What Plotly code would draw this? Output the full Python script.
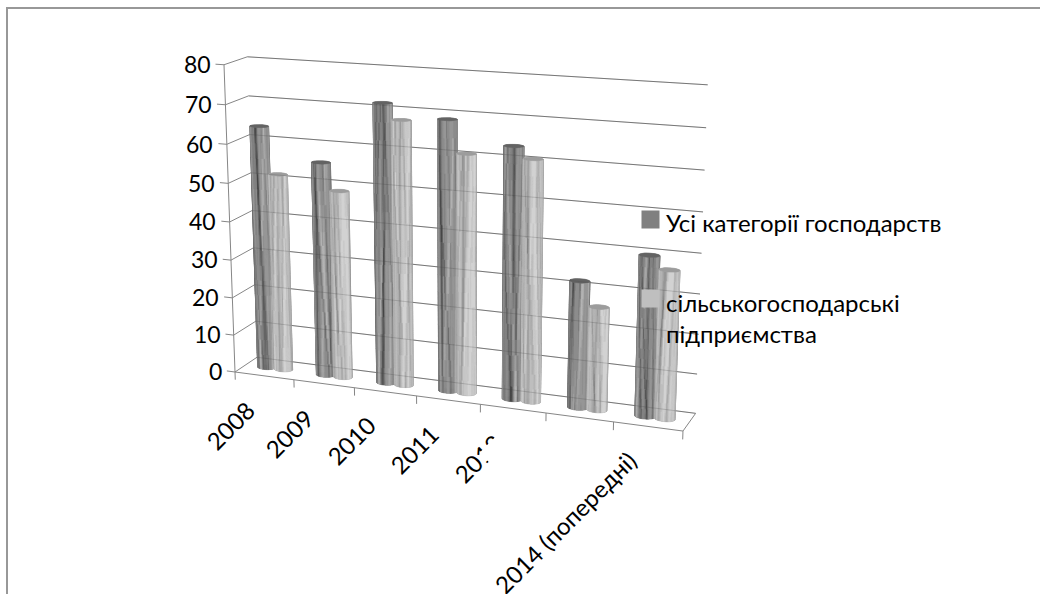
import numpy as np
import plotly.graph_objects as go

categories = ["2008", "2009", "2010", "2011", "2012", "2013", "2014 (попередні)"]
tick_labels = ["2008", "2009", "2010", "2011", "2012", "", "2014 (попередні)"]
series_names = ["Усі категорії господарств", "сільськогосподарські підприємства"]
all_farms = [63.8, 55.8, 71.9, 69.0, 63.7, 32.1, 40.1]
agri_enterprises = [51.8, 48.9, 68.0, 60.9, 60.9, 26.1, 37.0]
value_ticks = [0, 10, 20, 30, 40, 50, 60, 70, 80]

FONT = "Lato, 'Open Sans', sans-serif"
GRID = "#868686"


def project(X, Y, Z):
    """Perspective view of the chart box: X category, Y depth 0..1, Z value."""
    X, Y, Z = np.asarray(X, float), np.asarray(Y, float), np.asarray(Z, float)
    w = 1 - 0.013056 * X + 0.0239 * Y - 0.000575 * Z
    px = 235 + 55.08 * X + 28.13 * Y - 0.2662 * Z
    py = 372 + 2.807 * X - 6.214 * Y - 3.878 * Z
    return px / w, py / w


def line_trace(points, color=GRID, width=1.0, name="axis"):
    xs, ys = [], []
    for seg in points:
        a, b = project(*seg[0]), project(*seg[1])
        xs += [float(a[0]), float(b[0]), None]
        ys += [float(a[1]), float(b[1]), None]
    return go.Scatter(x=xs, y=ys, mode="lines", line=dict(color=color, width=width),
                      hoverinfo="skip", showlegend=False, name=name)


NCAT = len(categories)
grid_segments = []
for v in value_ticks:
    grid_segments.append(((0, 0, v), (0, 1, v)))
    grid_segments.append(((0, 1, v), (NCAT, 1, v)))

fig = go.Figure()
fig.add_trace(line_trace(grid_segments, name="gridlines"))

# Grain of the cylinder surface: (position, slant, width, strength)
STREAKS = [(0.12, 0.45, 0.035, -1.0), (0.24, -0.20, 0.05, 0.6), (0.36, -0.50, 0.03, -1.0),
           (0.47, 0.10, 0.04, -1.1), (0.56, 0.40, 0.03, 0.7), (0.63, -0.25, 0.035, -0.9),
           (0.74, 0.30, 0.04, 0.6), (0.85, -0.35, 0.03, -0.8), (0.94, 0.15, 0.04, 0.7)]
LEVELS = 24


def texture(u, t, idx, light):
    """Grey level of the grained cylinder surface; u around, t along the height."""
    base = 188.0 if light else 136.0
    shade = 12 * np.cos(2 * np.pi * (u - 0.7))
    val = base + shade
    for k, (c, s, wd, st) in enumerate(STREAKS):
        shift = 0.10 * np.sin(idx * 1.7 + k * 2.3)
        slope = s * (1.0 if (idx + k) % 3 else -1.0)
        pos = c + shift + slope * (t - 0.5)
        val = val + st * (34 if light else 46) * np.exp(-((u - pos) / wd) ** 2)
    val += 5 * np.sin(u * 47 + idx) + 4 * np.sin(u * 83 + 5 * t + idx * 2)
    val -= 34 * abs(2 * u - 1) ** 8
    return float(np.clip(val, 70, 212 if light else 178))


def add_cylinder(cat, slot, value, idx, light, name):
    cx = cat + (0.355 if slot == 0 else 0.645)
    cy, r = 0.5, 0.145
    th_all = np.linspace(0, 2 * np.pi, 49)
    ux, uy = [], []
    for a, b in zip(th_all[:-1], th_all[1:]):
        xq = [cx + r * np.cos(a), cx + r * np.cos(b), cx + r * np.cos(b), cx + r * np.cos(a)]
        yq = [cy + r * np.sin(a), cy + r * np.sin(b), cy + r * np.sin(b), cy + r * np.sin(a)]
        zq = [0, 0, value, value]
        px, py = project(xq, yq, zq)
        ux += list(px) + [px[0], None]
        uy += list(py) + [py[0], None]
    col = "#a8a8a8" if light else "#7c7c7c"
    fig.add_trace(go.Scatter(x=ux, y=uy, mode="lines", fill="toself", fillcolor=col,
                             line=dict(color=col, width=0.4), hoverinfo="skip",
                             showlegend=False, name=name))
    thetas = np.linspace(-np.pi - 0.2, 0.2, 29)
    zs = np.linspace(0, value, 17)
    buckets = {}
    for i in range(len(thetas) - 1):
        a, b = thetas[i], thetas[i + 1]
        u = ((a + b) / 2 + np.pi + 0.2) / (np.pi + 0.4)
        for j in range(len(zs) - 1):
            t = (zs[j] + zs[j + 1]) / 2 / 72.0
            g = texture(u, t, idx, light)
            lvl = int(round(g / 240 * LEVELS))
            xq = [cx + r * np.cos(a), cx + r * np.cos(b), cx + r * np.cos(b), cx + r * np.cos(a)]
            yq = [cy + r * np.sin(a), cy + r * np.sin(b), cy + r * np.sin(b), cy + r * np.sin(a)]
            zq = [zs[j], zs[j], zs[j + 1], zs[j + 1]]
            px, py = project(xq, yq, zq)
            bx, by = buckets.setdefault(lvl, ([], []))
            bx += [round(float(v), 2) for v in px] + [round(float(px[0]), 2), None]
            by += [round(float(v), 2) for v in py] + [round(float(py[0]), 2), None]
    for lvl, (bx, by) in sorted(buckets.items()):
        g = int(lvl * 240 / LEVELS)
        c = f"rgb({g},{g},{g})"
        fig.add_trace(go.Scatter(x=bx, y=by, mode="lines", fill="toself", fillcolor=c,
                                 line=dict(color=c, width=0.25), hoverinfo="skip",
                                 showlegend=False, name=name))
    th = np.linspace(0, 2 * np.pi, 37)
    px, py = project(cx + r * np.cos(th), cy + r * np.sin(th), np.full_like(th, value))
    cap = "#9c9c9c" if light else "#636363"
    fig.add_trace(go.Scatter(x=px.tolist(), y=py.tolist(), mode="lines", fill="toself", fillcolor=cap,
                             line=dict(color=cap, width=0.5), hoverinfo="skip",
                             showlegend=False, name=name))


for c in range(NCAT):
    add_cylinder(c, 0, all_farms[c], c * 2, False, series_names[0])
    add_cylinder(c, 1, agri_enterprises[c], c * 2 + 1, True, series_names[1])

# gridlines show faintly through the cylinders
fig.add_trace(line_trace([s for s in grid_segments if s[0][1] == 1 and s[1][1] == 1],
                         color="rgba(70,70,70,0.22)", width=1.0, name="gridlines over bars"))

axis_segments = [((0, 0, 0), (0, 0, 80)), ((0, 0, 0), (NCAT, 0, 0)), ((NCAT, 0, 0), (NCAT, 1, 0))]
axis_segments += [((-0.14, 0, v), (0, 0, v)) for v in value_ticks]
axis_segments += [((c, 0, 0), (c, 0, -2.1)) for c in range(NCAT + 1)]
fig.add_trace(line_trace(axis_segments, name="axes"))

annotations = []
for v in value_ticks:
    px, py = project(-0.14, 0, v)
    annotations.append(dict(x=float(px), y=float(py), xshift=-3, text=str(v), showarrow=False,
                            xanchor="right", yanchor="middle", font=dict(family=FONT, size=23, color="black")))

label_pos = [(230, 425), (289, 433), (351, 440), (414, 449), (478, 458), None, (565, 522)]
for lab, pos in zip(tick_labels, label_pos):
    if lab and pos:
        annotations.append(dict(x=pos[0], y=pos[1], text=lab, showarrow=False, textangle=-45,
                                xanchor="center", yanchor="middle",
                                font=dict(family=FONT, size=24, color="black")))

# part of the 2012 label is hidden in the reference
annotations.append(dict(x=500, y=447, text=" ", showarrow=False, textangle=-45, width=36, height=20,
                        bgcolor="white", borderpad=0, font=dict(size=1)))

for y, col in [(219.5, "#808080"), (298.5, "#bfbfbf")]:
    annotations.append(dict(x=650.5, y=y, text="\u00a0", showarrow=False, width=17, height=17,
                            bgcolor=col, borderpad=0, font=dict(size=1)))
annotations.append(dict(x=664, y=222, text=series_names[0], showarrow=False, xanchor="left", yanchor="middle",
                        font=dict(family=FONT, size=24, color="black")))
annotations.append(dict(x=664, y=302, text="сільськогосподарські", showarrow=False, xanchor="left", yanchor="middle",
                        font=dict(family=FONT, size=24, color="black")))
annotations.append(dict(x=664, y=333, text="підприємства", showarrow=False, xanchor="left", yanchor="middle",
                        font=dict(family=FONT, size=24, color="black")))

fig.update_layout(
    width=1040, height=594, margin=dict(l=0, r=0, t=0, b=0),
    paper_bgcolor="white", plot_bgcolor="white", showlegend=False,
    xaxis=dict(range=[0, 1040], visible=False, fixedrange=True),
    yaxis=dict(range=[594, 0], visible=False, fixedrange=True),
    annotations=annotations,
    shapes=[dict(type="path", xref="x", yref="y", path="M 7,620 L 7,8 L 1060,8",
                 line=dict(color="#989898", width=2), layer="below")],
)
fig.write_html("out.html", config=dict(displayModeBar=False),
               post_script="document.body.style.margin='0';")
